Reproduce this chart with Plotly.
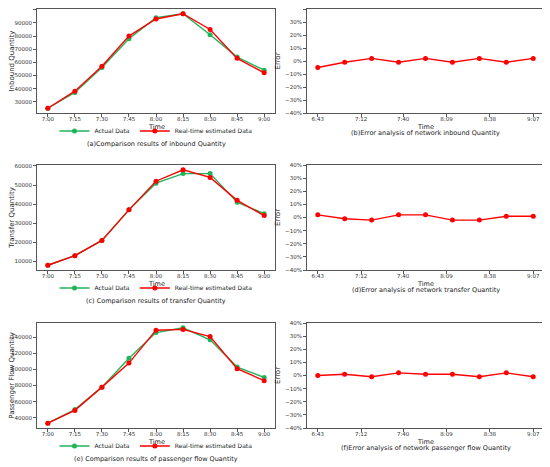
import plotly.graph_objects as go
from plotly.subplots import make_subplots

# data
times = ["7:00", "7:15", "7:30", "7:45", "8:00", "8:15", "8:30", "8:45", "9:00"]

inbound_actual = [25000, 37000, 56000, 78000, 94000, 97000, 81000, 64000, 54000]
inbound_est = [25000, 38000, 57000, 80000, 93000, 97000, 85000, 63000, 52000]

transfer_actual = [8000, 13000, 21000, 37000, 51000, 56000, 56000, 41000, 35000]
transfer_est = [8000, 13000, 21000, 37000, 52000, 58000, 54000, 42000, 34000]

flow_actual = [33000, 50000, 78000, 114000, 146000, 152000, 137000, 103000, 90000]
flow_est = [33000, 49000, 78000, 108000, 149000, 150000, 141000, 101000, 86000]

# error series (x in minutes after midnight, 6:43 .. 9:07)
err_times = ["6:43", "7:01", "7:19", "7:37", "7:55", "8:13", "8:31", "8:49", "9:07"]
err_ticks = ["6:43", "7:12", "7:40", "8:09", "8:38", "9:07"]
inbound_err = [-0.05, -0.01, 0.02, -0.01, 0.02, -0.01, 0.02, -0.01, 0.02]
transfer_err = [0.02, -0.01, -0.02, 0.02, 0.02, -0.02, -0.02, 0.01, 0.01]
flow_err = [0.0, 0.01, -0.01, 0.02, 0.01, 0.01, -0.01, 0.02, -0.01]


def to_min(t):
    h, m = t.split(":")
    return int(h) * 60 + int(m)


err_x = [to_min(t) for t in err_times]
err_tickvals = [to_min(t) for t in err_ticks]

# the page adds an 8px body margin, so the figure is a bit smaller than the window
OFF = 8
W, H = 550 - OFF, 467 - OFF
GREEN = "#1fb45a"
RED = "#ff0000"
FONT = "DejaVu Sans"


def px_x(p):
    return min(max((p - OFF) / W, 0), 1)


def px_y(p):
    return min(max(1 - (p - OFF) / H, 0), 1)


fig = make_subplots(rows=3, cols=2)

rows = [
    (inbound_actual, inbound_est, inbound_err, "Inbound Quantity", 10000,
     "(a)Comparison results of inbound Quantity",
     "(b)Error analysis of network inbound Quantity"),
    (transfer_actual, transfer_est, transfer_err, "Transfer Quantity", 10000,
     "(c) Comparison results of transfer Quantity",
     "(d)Error analysis of network transfer Quantity"),
    (flow_actual, flow_est, flow_err, "Passenger Flow Quantity", 20000,
     "(e) Comparison results of passenger flow Quantity",
     "(f)Error analysis of network passenger flow Quantity"),
]

tops = [9, 165, 323]
bottoms = [113, 270, 428]

axis_style = dict(showline=True, linecolor="#555", linewidth=1, mirror=True,
                  ticks="outside", ticklen=3, tickcolor="#555", automargin=False,
                  showgrid=False, zeroline=False,
                  tickfont=dict(size=5.5, color="#333", family=FONT))
title_font = dict(size=7, color="#222", family=FONT)

annotations = []
for i, (act, est, err, ytitle, ystep, cap_l, cap_r) in enumerate(rows):
    r = i + 1
    leg = "legend" if i == 0 else "legend%d" % (i + 1)
    fig.add_trace(go.Scatter(x=times, y=act, mode="lines+markers", name="Actual Data",
                             line=dict(color=GREEN, width=1.4),
                             marker=dict(color=GREEN, size=5), legend=leg),
                  row=r, col=1)
    fig.add_trace(go.Scatter(x=times, y=est, mode="lines+markers",
                             name="Real-time estimated Data",
                             line=dict(color=RED, width=1.4),
                             marker=dict(color=RED, size=5), legend=leg),
                  row=r, col=1)
    fig.add_trace(go.Scatter(x=err_x, y=err, mode="lines+markers", showlegend=False,
                             line=dict(color=RED, width=1.4),
                             marker=dict(color=RED, size=5)),
                  row=r, col=2)

    ydom = [px_y(bottoms[i]), px_y(tops[i])]
    lo, hi = min(act + est), max(act + est)
    pad = (hi - lo) * 0.05
    fig.update_xaxes(axis_style, domain=[px_x(37), px_x(275)], range=[-0.4, 8.4],
                     ticklabelstandoff=-3, row=r, col=1)
    fig.update_yaxes(axis_style, domain=ydom, range=[lo - pad, hi + pad],
                     dtick=ystep, tickformat="d",
                     title=dict(text=ytitle, font=title_font, standoff=3),
                     row=r, col=1)
    span = err_x[-1] - err_x[0]
    fig.update_xaxes(axis_style, domain=[px_x(307), px_x(544)],
                     range=[err_x[0] - span * 0.05, err_x[-1] + span * 0.05],
                     tickvals=err_tickvals, ticktext=err_ticks,
                     ticklabelstandoff=-3, row=r, col=2)
    fig.update_yaxes(axis_style, domain=ydom, range=[-0.4, 0.4], dtick=0.1,
                     tickformat=".0%",
                     title=dict(text="Error", font=title_font, standoff=3),
                     row=r, col=2)

    xl = "x%d" % (2 * i + 1) if i else "x"
    yl = "y%d" % (2 * i + 1) if i else "y"
    xr = "x%d" % (2 * i + 2)
    yr = "y%d" % (2 * i + 2)
    for xa, ya in [(xl, yl), (xr, yr)]:
        annotations.append(dict(text="Time", xref=xa + " domain", yref=ya + " domain",
                                x=0.5, y=0, yshift=-14, yanchor="middle",
                                showarrow=False,
                                font=dict(size=6.5, color="#222", family=FONT)))
    annotations.append(dict(text=cap_l, xref=xl + " domain", yref=yl + " domain",
                            x=0.5, y=0, yshift=-31, yanchor="middle", showarrow=False,
                            font=dict(size=6.5, color="#222", family=FONT)))
    annotations.append(dict(text=cap_r, xref=xr + " domain", yref=yr + " domain",
                            x=0.5, y=0, yshift=-20, yanchor="middle", showarrow=False,
                            font=dict(size=6.5, color="#222", family=FONT)))

legend_style = dict(orientation="h", xanchor="center", yanchor="middle", x=px_x(156),
                    itemwidth=30, bgcolor="rgba(0,0,0,0)",
                    font=dict(size=6, color="#222", family=FONT))
fig.update_layout(
    template="none",
    width=W, height=H,
    margin=dict(l=0, r=0, t=0, b=0),
    paper_bgcolor="white", plot_bgcolor="white",
    legend=dict(legend_style, y=px_y(bottoms[0] + 18)),
    legend2=dict(legend_style, y=px_y(bottoms[1] + 18)),
    legend3=dict(legend_style, y=px_y(bottoms[2] + 18)),
    annotations=annotations,
)

fig.write_html("out.html")
